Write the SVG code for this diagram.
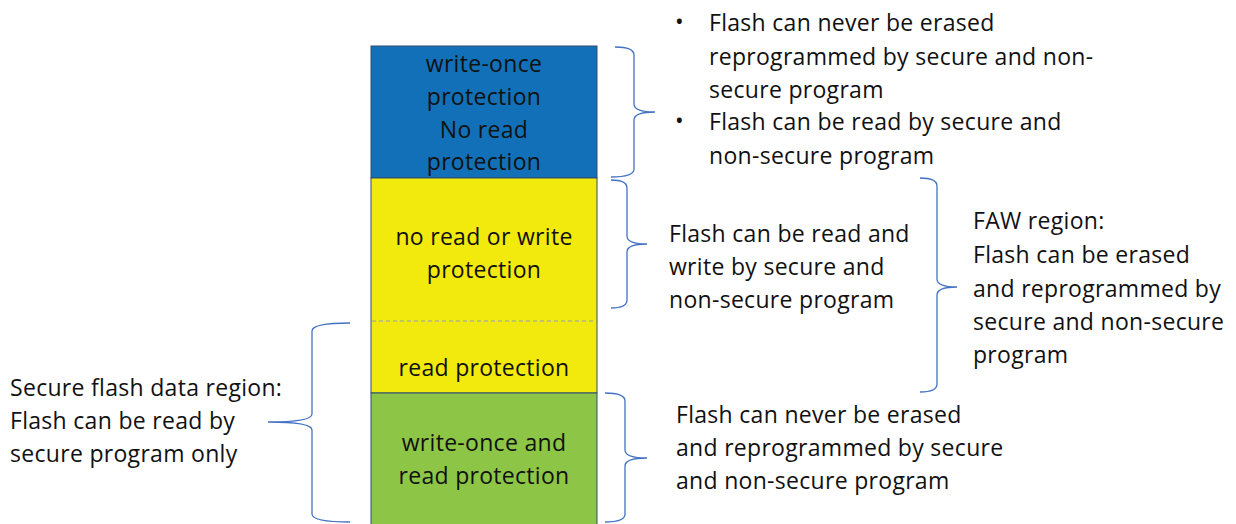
<svg xmlns="http://www.w3.org/2000/svg" width="1236" height="524" viewBox="0 0 1236 524">
<style>
.t{font-family:"Open Sans","Liberation Sans",sans-serif;font-size:23px;letter-spacing:0.3px;fill:#111}
.c{text-anchor:middle}
.br{fill:none;stroke:#4472C4;stroke-width:1.3}
.blk{stroke:#2F4F6F;stroke-width:1}
</style>
<rect width="1236" height="524" fill="#fff"/>
<g id="blue-block">
<rect class="blk" x="371" y="46" width="226" height="132" fill="#1170B8"/>
<text class="t c" x="484" y="72">write-once</text>
<text class="t c" x="484" y="105">protection</text>
<text class="t c" x="484" y="138">No read</text>
<text class="t c" x="484" y="170">protection</text>
</g>
<g id="yellow-block">
<rect class="blk" x="371" y="178" width="226" height="215" fill="#F2EA0C"/>
<line x1="372" y1="321" x2="596" y2="321" stroke="#8AA0B8" stroke-width="1" stroke-dasharray="4,3"/>
<text class="t c" x="484" y="245">no read or write</text>
<text class="t c" x="484" y="278">protection</text>
<text class="t c" x="484" y="376">read protection</text>
</g>
<g id="green-block">
<rect class="blk" x="371" y="393" width="226" height="135" fill="#8DC646"/>
<text class="t c" x="484" y="451">write-once and</text>
<text class="t c" x="484" y="484">read protection</text>
</g>
<g id="connectors">
<path class="br" d="M615 47 Q634 47 634 55 L634 104 Q634 112 655 112 Q634 112 634 120 L634 169 Q634 177 611 177"/>
<path class="br" d="M611 180 Q627 180 627 188 L627 236 Q627 244 647 244 Q627 244 627 252 L627 300 Q627 308 611 308"/>
<path class="br" d="M920 178 Q937 178 937 186 L937 279 Q937 287 957 287 Q937 287 937 295 L937 384 Q937 392 920 392"/>
<path class="br" d="M605 393 Q625 393 625 401 L625 450 Q625 458 647 458 Q625 458 625 466 L625 514 Q625 522 605 522"/>
<path class="br" d="M350 323 Q312 323 312 331 L312 414 Q312 422 268 422 Q312 422 312 430 L312 514 Q312 522 350 522"/>
</g>
<g id="top-note">
<text class="t" x="675" y="30">•</text>
<text class="t" x="709" y="31">Flash can never be erased</text>
<text class="t" x="709" y="65">reprogrammed by secure and non-</text>
<text class="t" x="709" y="98">secure program</text>
<text class="t" x="675" y="129">•</text>
<text class="t" x="709" y="130">Flash can be read by secure and</text>
<text class="t" x="709" y="164">non-secure program</text>
</g>
<g id="middle-note">
<text class="t" x="669" y="242">Flash can be read and</text>
<text class="t" x="669" y="275">write by secure and</text>
<text class="t" x="669" y="308">non-secure program</text>
</g>
<g id="faw-note">
<text class="t" x="973" y="229">FAW region:</text>
<text class="t" x="973" y="263">Flash can be erased</text>
<text class="t" x="973" y="297">and reprogrammed by</text>
<text class="t" x="973" y="330">secure and non-secure</text>
<text class="t" x="973" y="363">program</text>
</g>
<g id="bottom-note">
<text class="t" x="676" y="423">Flash can never be erased</text>
<text class="t" x="676" y="456">and reprogrammed by secure</text>
<text class="t" x="676" y="489">and non-secure program</text>
</g>
<g id="left-note">
<text class="t" x="10" y="396">Secure flash data region:</text>
<text class="t" x="10" y="429">Flash can be read by</text>
<text class="t" x="10" y="462">secure program only</text>
</g>
</svg>
